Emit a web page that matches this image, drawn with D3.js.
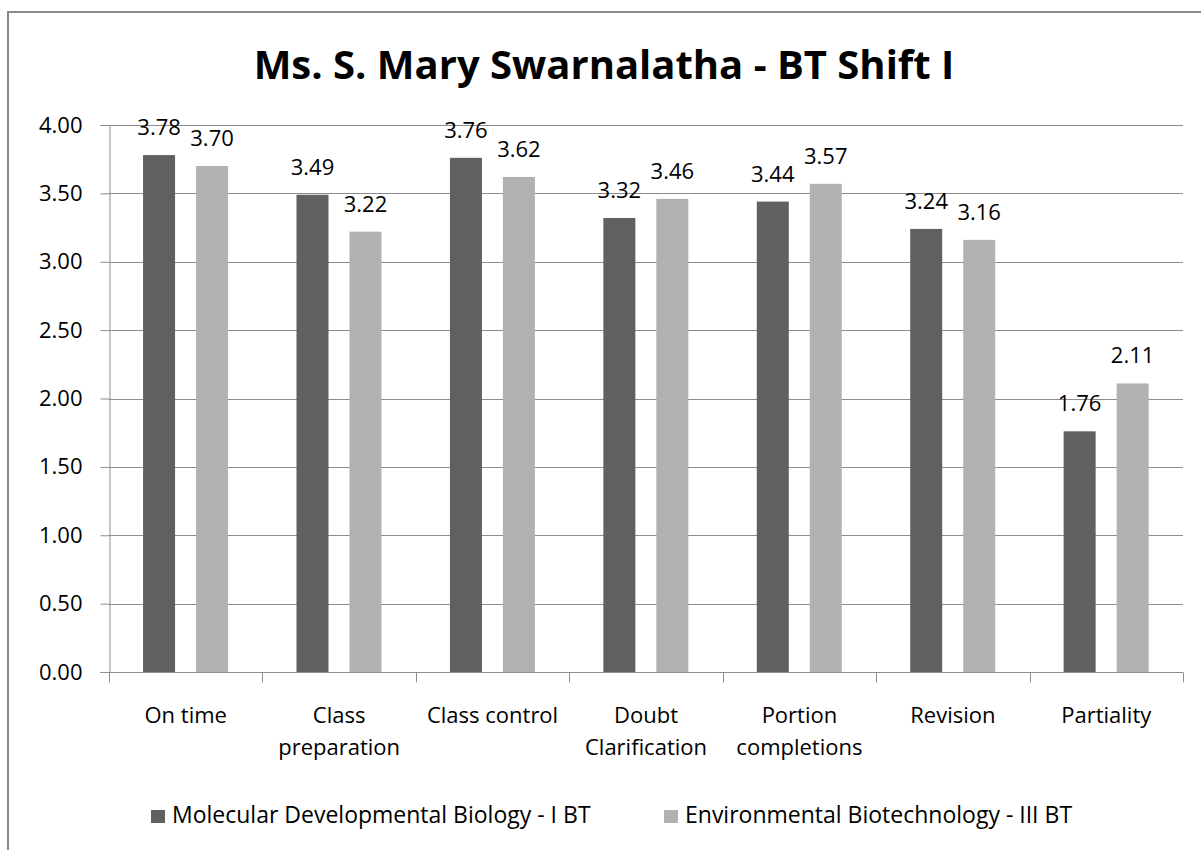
<!DOCTYPE html>
<html>
<head>
<meta charset="utf-8">
<script src="https://cdn.jsdelivr.net/npm/d3@7"></script>
<style>
  body { margin: 0; background: #fff; }
  svg { display: block; font-family: "Open Sans", sans-serif; }
</style>
</head>
<body>
<div id="chart"></div>
<script>
// chart data
const CATEGORIES = [
  ["On time"],
  ["Class", "preparation"],
  ["Class control"],
  ["Doubt", "Clarification"],
  ["Portion", "completions"],
  ["Revision"],
  ["Partiality"],
];
const SERIES = ["Molecular Developmental Biology - I BT", "Environmental Biotechnology - III BT"];
const MOLECULAR = [3.78, 3.49, 3.76, 3.32, 3.44, 3.24, 1.76];
const ENVIRONMENTAL = [3.70, 3.22, 3.62, 3.46, 3.57, 3.16, 2.11];
const Y_TICKS = [0, 0.5, 1, 1.5, 2, 2.5, 3, 3.5, 4];
const TITLE = "Ms. S. Mary Swarnalatha - BT Shift I";

const WIDTH = 1201;
const HEIGHT = 850;
const COLORS = ["#606060", "#b1b1b1"];
const GRID = "#8c8c8c";

const plot = { left: 109, right: 1183, top: 125, bottom: 672 };

const svg = d3.select("#chart")
  .append("svg")
  .attr("width", WIDTH)
  .attr("height", HEIGHT);

// chart frame (only left/top edges are inside the picture)
svg.append("rect")
  .attr("x", 8).attr("y", 12)
  .attr("width", 1400).attr("height", 1000)
  .attr("fill", "none")
  .attr("stroke", "#8a8a8a")
  .attr("stroke-width", 2);

svg.append("text")
  .attr("x", 604).attr("y", 79)
  .attr("text-anchor", "middle")
  .attr("font-size", 40)
  .attr("font-weight", "bold")
  .attr("fill", "#000")
  .text(TITLE);

const labels = CATEGORIES.map(d => d.join(" "));
const xScale = d3.scaleBand().domain(labels).range([plot.left, plot.right]);
const bw = xScale.bandwidth();
const xSub = d3.scaleBand()
  .domain(SERIES)
  .range([bw * 0.222, bw * 0.776])
  .paddingInner(0.396);
const yScale = d3.scaleLinear().domain([0, 4]).range([plot.bottom, plot.top]);

// gridlines
svg.append("g")
  .selectAll("line")
  .data(Y_TICKS.filter(d => d > 0))
  .join("line")
  .attr("x1", plot.left).attr("x2", plot.right)
  .attr("y1", d => Math.round(yScale(d)) + 0.5)
  .attr("y2", d => Math.round(yScale(d)) + 0.5)
  .attr("stroke", GRID);

// y axis
const yAxis = svg.append("g")
  .attr("transform", `translate(${plot.left + 0.5},0)`)
  .call(d3.axisLeft(yScale).tickValues(Y_TICKS).tickFormat(d3.format(".2f")).tickSize(9).tickPadding(18));
yAxis.selectAll("line").attr("stroke", GRID);
yAxis.select(".domain").attr("stroke", GRID);
yAxis.selectAll("text")
  .attr("font-size", 22)
  .attr("font-family", "Open Sans, sans-serif")
  .attr("fill", "#000");

// bars
const rows = SERIES.map((s, i) => ({ name: s, values: i === 0 ? MOLECULAR : ENVIRONMENTAL, color: COLORS[i] }));
const groups = svg.append("g")
  .selectAll("g")
  .data(rows)
  .join("g");

groups.selectAll("rect")
  .data(r => r.values.map((v, i) => ({ v, cat: labels[i], series: r.name, color: r.color })))
  .join("rect")
  .attr("x", d => xScale(d.cat) + xSub(d.series))
  .attr("width", xSub.bandwidth())
  .attr("y", d => yScale(d.v))
  .attr("height", d => yScale(0) - yScale(d.v))
  .attr("fill", d => d.color);

groups.selectAll("text")
  .data(r => r.values.map((v, i) => ({ v, cat: labels[i], series: r.name })))
  .join("text")
  .attr("x", d => xScale(d.cat) + xSub(d.series) + xSub.bandwidth() / 2)
  .attr("y", d => yScale(d.v) - 20)
  .attr("text-anchor", "middle")
  .attr("font-size", 22)
  .attr("fill", "#000")
  .text(d => d3.format(".2f")(d.v));

// x axis
const xAxis = svg.append("g")
  .attr("transform", `translate(0,${plot.bottom + 0.5})`);
xAxis.append("line")
  .attr("x1", plot.left).attr("x2", plot.right)
  .attr("stroke", GRID);
xAxis.selectAll(".tick")
  .data(d3.range(labels.length + 1))
  .join("line")
  .attr("class", "tick")
  .attr("x1", i => Math.round(plot.left + i * bw) + 0.5)
  .attr("x2", i => Math.round(plot.left + i * bw) + 0.5)
  .attr("y1", 0).attr("y2", 10)
  .attr("stroke", GRID);

svg.append("g")
  .selectAll("text")
  .data(CATEGORIES)
  .join("text")
  .attr("x", (d, i) => xScale(labels[i]) + bw / 2)
  .attr("y", 723)
  .attr("text-anchor", "middle")
  .attr("font-size", 22)
  .attr("fill", "#000")
  .selectAll("tspan")
  .data(d => d)
  .join("tspan")
  .attr("x", function () { return d3.select(this.parentNode).attr("x"); })
  .attr("dy", (d, i) => i === 0 ? 0 : 32)
  .text(d => d);

// legend
const LEGEND_X = [151, 664];
const legend = svg.append("g")
  .selectAll("g")
  .data(rows)
  .join("g")
  .attr("transform", (d, i) => `translate(${LEGEND_X[i]},810)`);
legend.append("rect")
  .attr("width", 14).attr("height", 13)
  .attr("fill", d => d.color);
legend.append("text")
  .attr("x", 21).attr("y", 13)
  .attr("font-size", 23)
  .attr("fill", "#000")
  .text(d => d.name);
</script>
</body>
</html>
